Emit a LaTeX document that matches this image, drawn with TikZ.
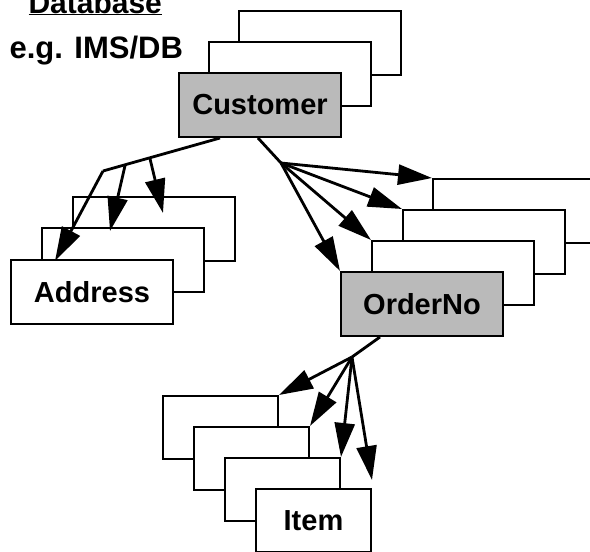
\documentclass[tikz,border=0pt]{standalone}
\usepackage{fontspec}
\setmainfont{Liberation Sans}
\usetikzlibrary{arrows.meta,positioning,calc}

\begin{document}
\begin{tikzpicture}[x=1pt,y=-1pt,font=\bfseries\fontsize{29}{32}\selectfont,
  card/.style={draw, fill=white, line width=2pt, anchor=north west, inner sep=0pt, minimum width=162pt, minimum height=64pt},
  smallcard/.style={card, minimum width=115pt, minimum height=63pt},
  shaded/.style={fill=black!27},
  trunk/.style={line width=2.8pt},
  link/.style={trunk, -{Triangle[length=34pt,width=20pt]}},
]
\useasboundingbox (0,0) rectangle (590,552);

\node[anchor=base west,font=\bfseries\fontsize{30}{32}\selectfont] (title) at (25,13) {\underline{Database}};
\node[anchor=base west,font=\bfseries\fontsize{31}{34}\selectfont] (dbms) at (6,58) {e.g. IMS/DB};

% segment stacks
\node[card] (cust3) at (238,10) {};
\node[card] (cust2) at (208,41) {};
\node[card,shaded] (cust) at (178,72) {Customer};

\node[card] (addr3) at (72,196) {};
\node[card] (addr2) at (41,227) {};
\node[card] (addr) at (10,259) {Address};

\node[card] (ord4) at (432,178) {};
\node[card] (ord3) at (402,209) {};
\node[card] (ord2) at (371,240) {};
\node[card,shaded] (ord) at (340,271) {OrderNo};

\node[smallcard] (item4) at (162,395) {};
\node[smallcard] (item3) at (193,426) {};
\node[smallcard] (item2) at (224,457) {};
\node[smallcard] (item) at (255,488) {Item};

% Customer -> Address
\coordinate (abase) at ($(cust.south west)+(42,0)$);
\coordinate (afan) at (103,171);
\draw[trunk] (abase) -- (afan);
\draw[link] (afan) -- ($(addr.north west)+(45,2)$);
\draw[link] ($(abase)!.81!(afan)$) -- ($(addr2.north west)+(69,4)$);
\draw[link] ($(abase)!.6!(afan)$) -- ($(addr3.north west)+(91,17)$);

% Customer -> OrderNo
\coordinate (obase) at ($(cust.south west)+(80,0)$);
\coordinate (ofan) at (281,163);
\draw[trunk] (obase) -- (ofan);
\draw[link] (ofan) -- (ord4.north west);
\draw[link] (ofan) -- (ord3.north west);
\draw[link] (ofan) -- (ord2.north west);
\draw[link] (ofan) -- (ord.north west);

% OrderNo -> Item
\coordinate (ibase) at ($(ord.south west)+(40,0)$);
\coordinate (ifan) at (352,357);
\draw[trunk] (ibase) -- (ifan);
\draw[link] (ifan) -- (item4.north east);
\draw[link] (ifan) -- (item3.north east);
\draw[link] (ifan) -- (item2.north east);
\draw[link] (ifan) -- ($(item.north east)+(0,-8)$);

\end{tikzpicture}
\end{document}
